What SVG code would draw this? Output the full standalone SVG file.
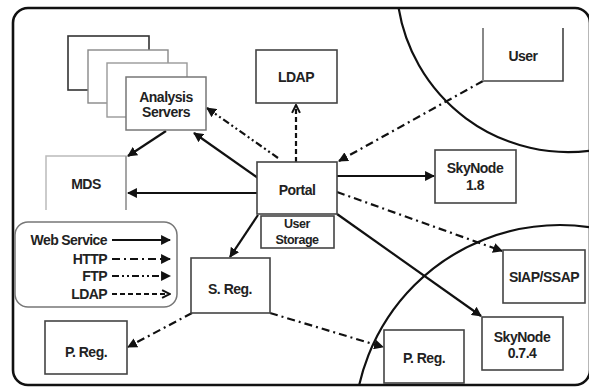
<svg xmlns="http://www.w3.org/2000/svg" width="589" height="387" viewBox="0 0 589 387">
  <style>
    .box { fill: #fff; stroke: #444; stroke-width: 1.6; }
    .lbl { font-family: "Liberation Sans", Arial, sans-serif; font-weight: bold; font-size: 14px; fill: #222; text-anchor: middle; letter-spacing: -0.5px; }
    .small { font-size: 12.5px; }
    .leg { font-family: "Liberation Sans", Arial, sans-serif; font-weight: bold; font-size: 14px; fill: #222; text-anchor: end; letter-spacing: -0.6px; }
    .ws { fill: none; stroke: #111; stroke-width: 2.2; marker-end: url(#arr); }
    .http { fill: none; stroke: #111; stroke-width: 2.2; stroke-dasharray: 8 4 2 4; marker-end: url(#arr); }
    .ftp { fill: none; stroke: #111; stroke-width: 2.2; stroke-dasharray: 7 3 2 3 2 3; marker-end: url(#arr); }
    .ldap { fill: none; stroke: #111; stroke-width: 2.2; stroke-dasharray: 5 3; marker-end: url(#open); }
    .arc { fill: none; stroke: #111; stroke-width: 2.2; }
  </style>
  <defs>
    <marker id="arr" viewBox="0 0 10 10" refX="9" refY="5" markerWidth="4.5" markerHeight="4.5" orient="auto" markerUnits="strokeWidth">
      <path d="M0,0 L10,5 L0,10 z" fill="#111"/>
    </marker>
    <marker id="open" viewBox="0 0 10 10" refX="9" refY="5" markerWidth="4.5" markerHeight="4.5" orient="auto" markerUnits="strokeWidth">
      <path d="M1,1 L9,5 L1,9" fill="none" stroke="#111" stroke-width="2"/>
    </marker>
    <clipPath id="frameClip">
      <rect x="13" y="8" width="577" height="377" rx="15"/>
    </clipPath>
  </defs>

  <rect width="589" height="387" fill="#fff"/>

  <!-- outer frame and the two domain circles -->
  <g id="frame">
    <rect x="13" y="8" width="577" height="377" rx="15" fill="none" stroke="#111" stroke-width="2.6"/>
    <g clip-path="url(#frameClip)">
      <path class="arc" d="M398,4 A172,172 0 0 0 595,150"/>
      <circle class="arc" cx="560" cy="431" r="206"/>
    </g>
  </g>

  <!-- connectors -->
  <g id="connectors">
    <line class="ws" x1="166" y1="131" x2="128" y2="156"/>
    <line class="ws" x1="258" y1="178" x2="194" y2="133"/>
    <line class="ftp" x1="278" y1="158" x2="207" y2="108"/>
    <line class="ldap" x1="296" y1="162" x2="296" y2="105"/>
    <line class="http" x1="483" y1="81" x2="339" y2="161"/>
    <line class="ws" x1="257" y1="193" x2="128" y2="193"/>
    <line class="ws" x1="337" y1="176" x2="434" y2="176"/>
    <line class="http" x1="337" y1="192" x2="502" y2="251"/>
    <line class="ws" x1="337" y1="214" x2="481" y2="316"/>
    <line class="ws" x1="258" y1="215" x2="230" y2="257"/>
    <line class="http" x1="192" y1="313" x2="128" y2="347"/>
    <line class="http" x1="270" y1="313" x2="383" y2="347"/>
  </g>

  <!-- nodes -->
  <g id="analysis-servers">
    <rect x="68" y="36" width="81" height="54" fill="#fff" stroke="#333" stroke-width="1.6"/>
    <rect x="88" y="50" width="80" height="53" fill="#fff" stroke="#888" stroke-width="1.4"/>
    <rect x="107" y="63" width="80" height="54" fill="#fff" stroke="#999" stroke-width="1.4"/>
    <rect x="126" y="77" width="80" height="53" fill="#fff" stroke="#777" stroke-width="1.5"/>
    <text class="lbl" x="166" y="102">Analysis</text>
    <text class="lbl" x="166" y="117">Servers</text>
  </g>

  <g id="mds">
    <path d="M46,210 V156 H126 V210" fill="#fff" stroke="#bbb" stroke-width="1.5"/>
    <line x1="126" y1="156" x2="126" y2="210" stroke="#999" stroke-width="1.5"/>
    <text class="lbl" x="86" y="189">MDS</text>
  </g>

  <g id="ldap">
    <rect class="box" x="256" y="50" width="81" height="53"/>
    <text class="lbl" x="296" y="82">LDAP</text>
  </g>

  <g id="user">
    <path d="M483,28 V81 H563 V28" fill="#fff" stroke="#444" stroke-width="1.6"/>
    <line x1="483" y1="28" x2="483" y2="81" stroke="#888" stroke-width="2"/>
    <text class="lbl" x="523" y="61">User</text>
  </g>

  <g id="portal">
    <rect class="box" x="257" y="162" width="80" height="52"/>
    <text class="lbl" x="297" y="195">Portal</text>
  </g>

  <g id="user-storage">
    <rect class="box" x="261" y="216" width="73" height="32"/>
    <text class="lbl small" x="297" y="228">User</text>
    <text class="lbl small" x="297" y="243.5">Storage</text>
  </g>

  <g id="skynode-18">
    <rect class="box" x="435" y="150" width="81" height="53"/>
    <text class="lbl" x="475" y="173">SkyNode</text>
    <text class="lbl" x="475" y="190">1.8</text>
  </g>

  <g id="siap-ssap">
    <rect class="box" x="503" y="250" width="82" height="53"/>
    <text class="lbl" x="544" y="282" letter-spacing="-0.8">SIAP/SSAP</text>
  </g>

  <g id="skynode-074">
    <rect class="box" x="482" y="317" width="81" height="53"/>
    <text class="lbl" x="522" y="342">SkyNode</text>
    <text class="lbl" x="522" y="358">0.7.4</text>
  </g>

  <g id="p-reg-right">
    <rect class="box" x="384" y="330" width="80" height="53"/>
    <text class="lbl" x="424" y="363">P. Reg.</text>
  </g>

  <g id="s-reg">
    <rect class="box" x="191" y="258" width="79" height="55"/>
    <text class="lbl" x="230" y="294">S. Reg.</text>
  </g>

  <g id="p-reg-left">
    <rect class="box" x="45" y="321" width="82" height="53"/>
    <text class="lbl" x="86" y="357">P. Reg.</text>
  </g>

  <!-- legend of connector styles -->
  <g id="legend">
    <rect x="15" y="222" width="162" height="85" rx="13" fill="#fff" stroke="#777" stroke-width="1.5"/>
    <text class="leg" x="107" y="245">Web Service</text>
    <text class="leg" x="107" y="264">HTTP</text>
    <text class="leg" x="107" y="281">FTP</text>
    <text class="leg" x="107" y="299">LDAP</text>
    <line class="ws" x1="112" y1="240" x2="170" y2="240"/>
    <line class="http" x1="112" y1="259" x2="170" y2="259"/>
    <line class="ftp" x1="112" y1="276" x2="170" y2="276"/>
    <line class="ldap" x1="112" y1="294" x2="170" y2="294"/>
  </g>
</svg>
